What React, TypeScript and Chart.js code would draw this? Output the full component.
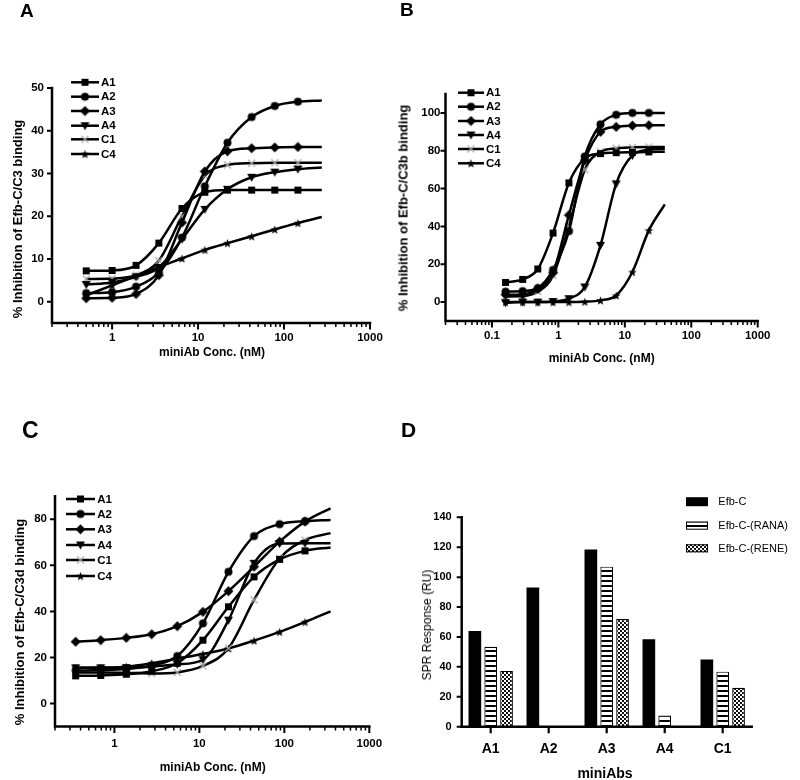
import React, { useEffect, useRef } from 'react';
import { Chart, registerables } from 'chart.js';

Chart.register(...registerables);

const FONT = "'Liberation Sans', Arial, Helvetica, sans-serif";

const seriesNames = ['A1', 'A2', 'A3', 'A4', 'C1', 'C4'];
const markerKinds = ['square', 'circle', 'diamond', 'triDown', 'cross', 'star'];
const xTicksLog = [0.1, 1, 10, 100, 1000];

// ---------- Panel A : inhibition of Efb-C / C3 binding ----------
// measured concentrations (nM); the 11th value of each series is where the fitted curve ends
const concA = [0.5, 1, 1.9, 3.5, 6.5, 12, 22, 42, 78, 145];
const curveEndA = 275;
const a_A1 = [7.2, 7.3, 8.5, 13.7, 21.8, 25.6, 26.1, 26.1, 26.1, 26.1, 26.1];
const a_A2 = [2.0, 2.2, 3.5, 6.8, 15.0, 27.0, 37.2, 43.2, 45.8, 46.8, 47.1];
const a_A3 = [0.8, 0.9, 1.8, 6.2, 18.5, 30.5, 35.2, 35.9, 36.1, 36.2, 36.2];
const a_A4 = [4.0, 4.5, 5.8, 8.0, 14.6, 21.6, 26.3, 29.1, 30.3, 31.0, 31.4];
const a_C1 = [5.3, 5.4, 6.2, 9.6, 20.0, 29.5, 32.0, 32.4, 32.5, 32.5, 32.5];
const a_C4 = [1.5, 3.8, 6.0, 8.1, 10.1, 12.1, 13.7, 15.3, 16.9, 18.4, 19.8];
const yTicksA = [0, 10, 20, 30, 40, 50];

// ---------- Panel B : inhibition of Efb-C / C3b binding ----------
const concB = [0.16, 0.29, 0.49, 0.83, 1.44, 2.5, 4.3, 7.4, 13, 23];
const curveEndB = 40;
const b_A1 = [10.4, 12.0, 17.5, 36.5, 63.0, 76.0, 78.5, 79.0, 79.2, 79.4, 79.5];
const b_A2 = [5.5, 5.8, 7.4, 17.0, 37.5, 77.0, 94.0, 99.0, 100, 100, 100];
const b_A3 = [3.9, 4.0, 7.0, 15.5, 46.0, 75.0, 90.0, 92.6, 93.3, 93.5, 93.5];
const b_A4 = [-0.3, 0, 0, 0.3, 1.8, 8.0, 30.0, 62.5, 77.5, 80.5, 81.0];
const b_C1 = [3.0, 3.2, 5.5, 14.0, 40.0, 70.0, 79.5, 81.3, 81.8, 82.0, 82.0];
const b_C4 = [0, 0, 0, 0, 0, 0.2, 0.9, 3.5, 15.9, 37.9, 51.7];
const yTicksB = [0, 20, 40, 60, 80, 100];

// ---------- Panel C : inhibition of Efb-C / C3d binding ----------
const concC = [0.35, 0.69, 1.38, 2.75, 5.5, 11, 22, 44, 88, 175];
const curveEndC = 350;
const c_A1 = [12.0, 12.2, 12.7, 14.0, 17.5, 27.5, 42.0, 55.0, 62.6, 66.3, 67.8];
const c_A2 = [14.3, 14.5, 15.0, 16.5, 20.6, 34.8, 57.2, 72.7, 77.9, 79.2, 79.7];
const c_A3 = [26.8, 27.5, 28.5, 30.1, 33.6, 39.8, 48.8, 59.4, 70.3, 79.0, 84.8];
const c_A4 = [15.5, 15.5, 15.6, 16.0, 17.0, 19.0, 36.2, 60.9, 69.5, 69.6, 69.6];
const c_C1 = [13.5, 13.5, 13.4, 13.0, 13.5, 16.3, 24.0, 45.0, 63.0, 71.0, 74.0];
const c_C4 = [15.5, 15.6, 16.0, 17.5, 19.5, 21.5, 23.9, 27.3, 31.1, 35.4, 40.0];
const yTicksC = [0, 20, 40, 60, 80];

// ---------- Panel D : SPR response ----------
const dCats = ['A1', 'A2', 'A3', 'A4', 'C1'];
const dSeriesNames = ['Efb-C', 'Efb-C-(RANA)', 'Efb-C-(RENE)'];
const d_EfbC = [64, 93, 118.5, 58.5, 45];
const d_RANA = [53.5, 0, 107, 7.5, 36.8];
const d_RENE = [37.3, 0, 72, 0, 26];
const yTicksD = [0, 20, 40, 60, 80, 100, 120, 140];

// ---------- helpers ----------
function makeMarker(kind: string): HTMLCanvasElement {
  const c = document.createElement('canvas');
  const s = 11;
  c.width = s;
  c.height = s;
  const g = c.getContext('2d')!;
  const m = s / 2;
  g.fillStyle = '#000';
  g.beginPath();
  switch (kind) {
    case 'square':
      g.fillRect(m - 3.5, m - 3.5, 7, 7);
      break;
    case 'circle':
      g.arc(m, m, 4, 0, Math.PI * 2);
      g.fill();
      break;
    case 'diamond':
      g.moveTo(m, m - 5);
      g.lineTo(m + 5, m);
      g.lineTo(m, m + 5);
      g.lineTo(m - 5, m);
      g.closePath();
      g.fill();
      break;
    case 'triDown':
      g.moveTo(m - 4.5, m - 3.5);
      g.lineTo(m + 4.5, m - 3.5);
      g.lineTo(m, m + 4.5);
      g.closePath();
      g.fill();
      break;
    case 'cross':
      g.strokeStyle = '#a8a8a8';
      g.lineWidth = 1.2;
      g.moveTo(m - 3.5, m - 3.5);
      g.lineTo(m + 3.5, m + 3.5);
      g.moveTo(m + 3.5, m - 3.5);
      g.lineTo(m - 3.5, m + 3.5);
      g.stroke();
      break;
    case 'star': {
      for (let k = 0; k < 10; k++) {
        const r = k % 2 === 0 ? 4.6 : 1.9;
        const a = -Math.PI / 2 + (k * Math.PI) / 5;
        const px = m + r * Math.cos(a);
        const py = m + 0.5 + r * Math.sin(a);
        if (k === 0) g.moveTo(px, py);
        else g.lineTo(px, py);
      }
      g.closePath();
      g.fill();
      break;
    }
  }
  return c;
}

function fmtLog(v: number): string {
  return String(v);
}

type LinePanel = {
  conc: number[];
  curveEnd: number;
  series: number[][];
  yMin: number;
  yMax: number;
  yTicks: number[];
  xMin: number;
  xMax: number;
  layout: {
    yAxisW: number;
    top: number;
    right: number;
    xAxisH: number;
    yTickPad: number;
    xTickPad: number;
    legX0: number;
    legX1: number;
    legTx: number;
    legYs: number[];
  };
};

function axesPlugin(yTicks: number[], logX: boolean) {
  return {
    id: 'axesDeco',
    afterDraw(chart: any) {
      const { ctx, chartArea } = chart;
      const { left, right, top, bottom } = chartArea;
      const xs = chart.scales.x;
      const ys = chart.scales.y;
      ctx.save();
      ctx.strokeStyle = '#000';
      ctx.lineCap = 'butt';
      // y ticks
      ctx.lineWidth = 2;
      ctx.beginPath();
      yTicks.forEach((v) => {
        const py = ys.getPixelForValue(v);
        ctx.moveTo(left - 5, py);
        ctx.lineTo(left, py);
      });
      ctx.stroke();
      // x ticks
      if (logX) {
        const k0 = Math.floor(Math.log10(xs.min)) - 1;
        const k1 = Math.ceil(Math.log10(xs.max));
        for (let k = k0; k <= k1; k++) {
          for (let mm = 1; mm <= 9; mm++) {
            const v = mm * Math.pow(10, k);
            if (v < xs.min * 0.999 || v > xs.max * 1.001) continue;
            const px = xs.getPixelForValue(v);
            ctx.lineWidth = mm === 1 ? 2 : 1.5;
            ctx.beginPath();
            ctx.moveTo(px, bottom);
            ctx.lineTo(px, bottom + (mm === 1 ? 6.5 : 4));
            ctx.stroke();
          }
        }
      } else {
        ctx.lineWidth = 2.2;
        ctx.beginPath();
        chart.data.labels.forEach((_: any, i: number) => {
          const px = xs.getPixelForValue(i);
          ctx.moveTo(px, bottom);
          ctx.lineTo(px, bottom + 6.5);
        });
        ctx.stroke();
      }
      // axis lines
      ctx.lineWidth = 2.5;
      ctx.lineCap = 'square';
      ctx.beginPath();
      ctx.moveTo(left, top);
      ctx.lineTo(left, bottom);
      ctx.lineTo(right, bottom);
      ctx.stroke();
      ctx.restore();
    },
  };
}

function buildLinePanel(p: LinePanel): any {
  const markers = markerKinds.map(makeMarker);
  const L = p.layout;
  const datasets = p.series.map((vals, i) => ({
    label: seriesNames[i],
    data: [...p.conc, p.curveEnd].map((x, j) => ({ x, y: vals[j] })),
    borderColor: '#000',
    backgroundColor: '#000',
    borderWidth: 2.5,
    pointStyle: markers[i],
    pointRadius: (c: any) => (c.dataIndex < p.conc.length ? 4 : 0),
    cubicInterpolationMode: 'monotone',
    fill: false,
  }));
  const legendPlugin = {
    id: 'lineLegend',
    afterDraw(chart: any) {
      const ctx = chart.ctx;
      ctx.save();
      L.legYs.forEach((ly, i) => {
        ctx.strokeStyle = '#000';
        ctx.lineWidth = 2.5;
        ctx.beginPath();
        ctx.moveTo(L.legX0, ly);
        ctx.lineTo(L.legX1, ly);
        ctx.stroke();
        const img = markers[i];
        ctx.drawImage(img, (L.legX0 + L.legX1) / 2 - img.width / 2, ly - img.height / 2);
        ctx.fillStyle = '#000';
        ctx.font = `bold 11.5px ${FONT}`;
        ctx.textBaseline = 'middle';
        ctx.textAlign = 'left';
        ctx.fillText(seriesNames[i], L.legTx, ly + 0.5);
      });
      ctx.restore();
    },
  };
  return {
    type: 'line',
    data: { datasets },
    options: {
      responsive: false,
      animation: false,
      events: [],
      layout: { padding: { left: 0, top: L.top, right: L.right, bottom: 0 } },
      plugins: { legend: { display: false }, tooltip: { enabled: false } },
      scales: {
        x: {
          type: 'logarithmic',
          min: p.xMin,
          max: p.xMax,
          afterBuildTicks: (s: any) => {
            s.ticks = xTicksLog.filter((v) => v >= p.xMin && v <= p.xMax).map((v) => ({ value: v }));
          },
          afterFit: (s: any) => {
            s.height = L.xAxisH;
          },
          grid: { display: false, drawTicks: false },
          border: { display: false },
          ticks: {
            autoSkip: false,
            maxRotation: 0,
            padding: L.xTickPad,
            color: '#000',
            font: { family: FONT, size: 11.5, weight: 'bold' },
            callback: (v: any) => fmtLog(Number(v)),
          },
        },
        y: {
          type: 'linear',
          min: p.yMin,
          max: p.yMax,
          afterBuildTicks: (s: any) => {
            s.ticks = p.yTicks.map((v) => ({ value: v }));
          },
          afterFit: (s: any) => {
            s.width = L.yAxisW;
          },
          grid: { display: false, drawTicks: false },
          border: { display: false },
          ticks: {
            padding: L.yTickPad,
            color: '#000',
            font: { family: FONT, size: 11.5, weight: 'bold' },
          },
        },
      },
    },
    plugins: [axesPlugin(p.yTicks, true), legendPlugin],
  };
}

function buildBarPanel(): any {
  const stripe = document.createElement('canvas');
  stripe.width = 4;
  stripe.height = 5;
  {
    const g = stripe.getContext('2d')!;
    g.fillStyle = '#fff';
    g.fillRect(0, 0, 4, 5);
    g.fillStyle = '#000';
    g.fillRect(0, 0, 4, 2);
  }
  const check = document.createElement('canvas');
  check.width = 4;
  check.height = 4;
  {
    const g = check.getContext('2d')!;
    g.fillStyle = '#fff';
    g.fillRect(0, 0, 4, 4);
    g.fillStyle = '#111';
    g.fillRect(0, 0, 2, 2);
    g.fillRect(2, 2, 2, 2);
  }
  const tmp = document.createElement('canvas').getContext('2d')!;
  const stripePat = tmp.createPattern(stripe, 'repeat');
  const checkPat = tmp.createPattern(check, 'repeat');

  const values = [d_EfbC, d_RANA, d_RENE];
  const fills: any[] = ['#000', stripePat, checkPat];
  const datasets = values.map((vals, i) => ({
    label: dSeriesNames[i],
    data: vals,
    backgroundColor: fills[i],
    borderColor: '#000',
    borderWidth: i === 0 ? 0 : 1.2,
    categoryPercentage: 0.82,
    barPercentage: 0.8,
  }));
  const legYs = [111.7, 135.7, 158.3];
  const legendPlugin = {
    id: 'barLegend',
    afterDraw(chart: any) {
      const ctx = chart.ctx;
      ctx.save();
      datasets.forEach((ds, i) => {
        const y = legYs[i];
        const bx = 286;
        const w = 22;
        const h = i === 0 ? 9 : 8;
        ctx.fillStyle = ds.backgroundColor;
        ctx.fillRect(bx, y - h / 2, w, h);
        if (i > 0) {
          ctx.strokeStyle = '#000';
          ctx.lineWidth = 1;
          ctx.strokeRect(bx + 0.5, y - h / 2 + 0.5, w - 1, h - 1);
        }
        ctx.fillStyle = '#000';
        ctx.font = `11px ${FONT}`;
        ctx.textBaseline = 'middle';
        ctx.textAlign = 'left';
        ctx.fillText(ds.label, 318.3, y + 0.5);
      });
      ctx.restore();
    },
  };
  return {
    type: 'bar',
    data: { labels: dCats, datasets },
    options: {
      responsive: false,
      animation: false,
      events: [],
      layout: { padding: { left: 0, top: 127.3, right: 48.3, bottom: 0 } },
      plugins: { legend: { display: false }, tooltip: { enabled: false } },
      scales: {
        x: {
          type: 'category',
          offset: true,
          afterFit: (s: any) => {
            s.height = 53.3;
          },
          grid: { display: false, drawTicks: false },
          border: { display: false },
          ticks: {
            padding: 14,
            color: '#000',
            font: { family: FONT, size: 14, weight: 'bold' },
          },
        },
        y: {
          type: 'linear',
          min: 0,
          max: 140,
          afterBuildTicks: (s: any) => {
            s.ticks = yTicksD.map((v) => ({ value: v }));
          },
          afterFit: (s: any) => {
            s.width = 61.7;
          },
          grid: { display: false, drawTicks: false },
          border: { display: false },
          ticks: {
            padding: 10,
            color: '#000',
            font: { family: FONT, size: 11, weight: 'bold' },
          },
        },
      },
    },
    plugins: [axesPlugin(yTicksD, false), legendPlugin],
  };
}

const panelA: LinePanel = {
  conc: concA,
  curveEnd: curveEndA,
  series: [a_A1, a_A2, a_A3, a_A4, a_C1, a_C4],
  yMin: -5,
  yMax: 50,
  yTicks: yTicksA,
  xMin: 0.2,
  xMax: 1000,
  layout: {
    yAxisW: 52,
    top: 88,
    right: 30,
    xAxisH: 67,
    yTickPad: 8,
    xTickPad: 8,
    legX0: 71,
    legX1: 99,
    legTx: 101,
    legYs: [82.3, 96.7, 111, 125.7, 139.3, 154],
  },
};

const panelB: LinePanel = {
  conc: concB,
  curveEnd: curveEndB,
  series: [b_A1, b_A2, b_A3, b_A4, b_C1, b_C4],
  yMin: -10,
  yMax: 110,
  yTicks: yTicksB,
  xMin: 0.02,
  xMax: 1000,
  layout: {
    yAxisW: 45.5,
    top: 94,
    right: 42.3,
    xAxisH: 69,
    yTickPad: 5,
    xTickPad: 8,
    legX0: 58,
    legX1: 84,
    legTx: 86,
    legYs: [92.7, 106.7, 121, 135, 149, 163.3],
  },
};

const panelC: LinePanel = {
  conc: concC,
  curveEnd: curveEndC,
  series: [c_A1, c_A2, c_A3, c_A4, c_C1, c_C4],
  yMin: -10,
  yMax: 90,
  yTicks: yTicksC,
  xMin: 0.2,
  xMax: 1000,
  layout: {
    yAxisW: 55,
    top: 106.3,
    right: 30.7,
    xAxisH: 53.5,
    yTickPad: 8,
    xTickPad: 10.5,
    legX0: 66,
    legX1: 95,
    legTx: 97.3,
    legYs: [109, 124, 139.3, 155, 170, 186],
  },
};

function ChartCanvas({ left, top, build }: { left: number; top: number; build: () => any }) {
  const ref = useRef<HTMLCanvasElement>(null);
  useEffect(() => {
    const chart = new Chart(ref.current as HTMLCanvasElement, build());
    return () => chart.destroy();
  }, []);
  return (
    <canvas
      ref={ref}
      width={400}
      height={390}
      style={{ position: 'absolute', left, top, width: 400, height: 390 }}
    />
  );
}

function Txt({ x, y, size, bold = true, center = false, children }: any) {
  return (
    <div
      style={{
        position: 'absolute',
        left: x,
        top: y - 0.8465 * size,
        fontFamily: FONT,
        fontSize: size,
        fontWeight: bold ? 'bold' : 'normal',
        lineHeight: 1,
        whiteSpace: 'nowrap',
        color: '#000',
        transform: center ? 'translateX(-50%)' : undefined,
      }}
    >
      {children}
    </div>
  );
}

function VTxt({ cx, cy, size, bold = true, children }: any) {
  return (
    <div
      style={{
        position: 'absolute',
        left: cx,
        top: cy,
        fontFamily: FONT,
        fontSize: size,
        fontWeight: bold ? 'bold' : 'normal',
        lineHeight: 1,
        whiteSpace: 'nowrap',
        color: '#000',
        transform: 'translate(-50%, -50%) rotate(-90deg)',
      }}
    >
      {children}
    </div>
  );
}

export default function App() {
  return (
    <div
      style={{
        position: 'absolute',
        left: 0,
        top: 0,
        width: 800,
        height: 780,
        background: '#fff',
        overflow: 'hidden',
      }}
    >
      <ChartCanvas left={0} top={0} build={() => buildLinePanel(panelA)} />
      <ChartCanvas left={400} top={0} build={() => buildLinePanel(panelB)} />
      <ChartCanvas left={0} top={390} build={() => buildLinePanel(panelC)} />
      <ChartCanvas left={400} top={390} build={() => buildBarPanel()} />

      <Txt x={20} y={17} size={19}>A</Txt>
      <Txt x={400} y={16} size={19}>B</Txt>
      <Txt x={22} y={438} size={23}>C</Txt>
      <Txt x={401} y={437} size={21}>D</Txt>

      <Txt x={212} y={356} size={12} center>miniAb Conc. (nM)</Txt>
      <VTxt cx={16.5} cy={219} size={13}>% Inhibition of Efb-C/C3 binding</VTxt>

      <Txt x={601.7} y={362} size={12} center>miniAb Conc. (nM)</Txt>
      <VTxt cx={402.5} cy={207.5} size={13}>% Inhibition of Efb-C/C3b binding</VTxt>

      <Txt x={212.7} y={771} size={12} center>miniAb Conc. (nM)</Txt>
      <VTxt cx={18.5} cy={621.7} size={13}>% Inhibition of Efb-C/C3d binding</VTxt>

      <Txt x={605} y={778} size={14} center>miniAbs</Txt>
      <VTxt cx={426.8} cy={625} size={12} bold={false}>SPR Response (RU)</VTxt>
    </div>
  );
}
